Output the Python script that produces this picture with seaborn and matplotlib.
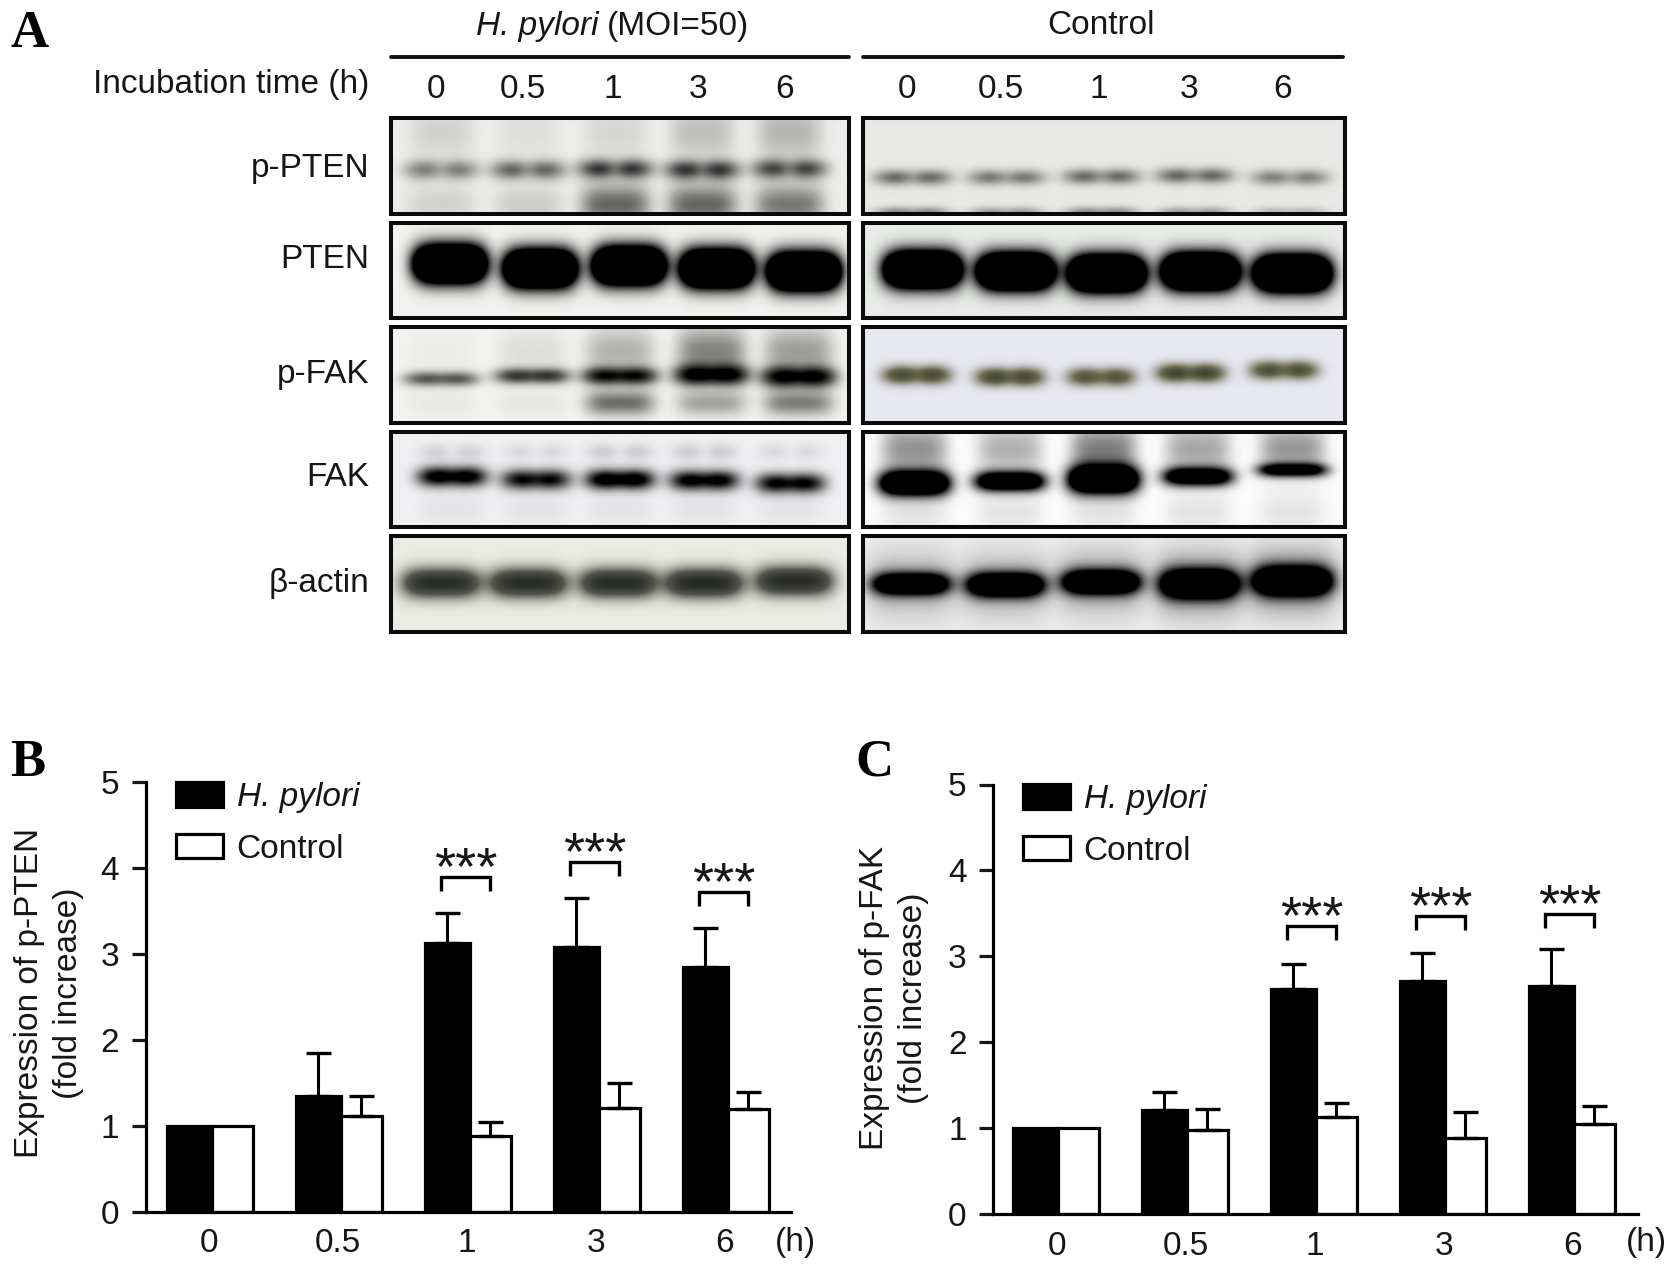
import numpy as np
import pandas as pd
import matplotlib
matplotlib.use("Agg")
import matplotlib.pyplot as plt
from matplotlib.colors import LinearSegmentedColormap
from matplotlib.patches import Patch
from matplotlib.transforms import ScaledTranslation
import seaborn as sns

# ---------- bar chart values ----------
TIMES = ["0", "0.5", "1", "3", "6"]
GROUPS = ["H. pylori", "Control"]
PTEN_HP = [1.00, 1.34, 3.13, 3.08, 2.85]
PTEN_HP_ERR = [0.00, 0.51, 0.34, 0.57, 0.45]
PTEN_CT = [1.00, 1.11, 0.88, 1.20, 1.19]
PTEN_CT_ERR = [0.00, 0.24, 0.16, 0.30, 0.20]
FAK_HP = [1.00, 1.21, 2.62, 2.71, 2.66]
FAK_HP_ERR = [0.00, 0.21, 0.29, 0.33, 0.42]
FAK_CT = [1.00, 0.98, 1.13, 0.89, 1.05]
FAK_CT_ERR = [0.00, 0.24, 0.16, 0.30, 0.21]
PTEN_BRACKET_TOPS = {"1": 3.89, "3": 4.07, "6": 3.72}
FAK_BRACKET_TOPS = {"1": 3.35, "3": 3.47, "6": 3.49}

# ---------- blot text ----------
BLOT_ROWS = ["p-PTEN", "PTEN", "p-FAK", "FAK", "β-actin"]

# ---------- blot densities, one value per lane (0, 0.5, 1, 3, 6 h) ----------
PP_HP_BAND = [0.48, 0.60, 0.80, 0.80, 0.72]
PP_HP_LOW = [0.12, 0.14, 0.58, 0.58, 0.50]
PP_HP_UP = [0.12, 0.06, 0.10, 0.20, 0.24]
PP_CT_BAND = [0.58, 0.52, 0.58, 0.60, 0.48]
PP_CT_LOW = [0.42, 0.34, 0.42, 0.34, 0.22]
P_HP_BAND = [3.2, 3.2, 3.2, 3.2, 3.2]
P_CT_BAND = [3.4, 3.4, 3.4, 3.4, 3.4]
PF_HP_BAND = [0.62, 0.78, 0.98, 1.10, 1.10]
PF_HP_LOW = [0.04, 0.05, 0.50, 0.30, 0.44]
PF_HP_UP = [0.03, 0.08, 0.24, 0.42, 0.32]
PF_CT_BAND = [0.80, 0.82, 0.72, 0.86, 0.76]
F_HP_BAND = [1.20, 1.05, 1.25, 1.15, 1.10]
F_HP_UP = [0.14, 0.10, 0.16, 0.16, 0.10]
F_CT_BAND = [2.20, 1.80, 2.40, 1.60, 1.30]
F_CT_UP = [0.42, 0.30, 0.50, 0.34, 0.40]
A_HP_BAND = [0.92, 0.92, 0.92, 0.95, 0.92]
A_CT_BAND = [1.70, 1.90, 1.90, 2.10, 2.10]
A_CT_HALO = [0.30, 0.30, 0.34, 0.46, 0.50]

# band migration, fraction of the panel height, per lane
PP_HP_POS = [0.54, 0.54, 0.53, 0.54, 0.53]
PP_CT_POS = [0.62, 0.62, 0.61, 0.60, 0.62]
P_HP_POS = [0.43, 0.48, 0.45, 0.48, 0.51]
P_CT_POS = [0.49, 0.51, 0.53, 0.51, 0.53]
PF_HP_POS = [0.54, 0.51, 0.51, 0.50, 0.52]
PF_CT_POS = [0.50, 0.52, 0.52, 0.48, 0.45]
F_HP_POS = [0.47, 0.50, 0.50, 0.51, 0.54]
F_CT_POS = [0.54, 0.52, 0.50, 0.47, 0.40]
A_HP_POS = [0.49, 0.49, 0.49, 0.49, 0.47]
A_CT_POS = [0.50, 0.51, 0.48, 0.50, 0.47]

# lane centres, fraction of the panel width
PP_HP_LANES = [0.11, 0.30, 0.49, 0.68, 0.87]
PP_CT_LANES = [0.103, 0.298, 0.495, 0.688, 0.886]
P_HP_LANES = [0.129, 0.326, 0.52, 0.711, 0.902]
P_CT_LANES = [0.124, 0.317, 0.506, 0.70, 0.891]
PF_HP_LANES = [0.11, 0.309, 0.50, 0.70, 0.89]
PF_CT_LANES = [0.112, 0.305, 0.494, 0.68, 0.873]
F_HP_LANES = [0.134, 0.317, 0.50, 0.684, 0.872]
F_CT_LANES = [0.107, 0.305, 0.499, 0.695, 0.891]
A_HP_LANES = [0.11, 0.30, 0.497, 0.684, 0.88]
A_CT_LANES = [0.10, 0.296, 0.494, 0.698, 0.891]

W, H = 1677, 1270
sns.set_theme(style="ticks", rc={"axes.facecolor": "white", "figure.facecolor": "white"})
plt.rcParams["font.family"] = ["Liberation Sans", "DejaVu Sans"]
TXT = "#161616"
FS = 24
fig = plt.figure(figsize=(W / 100, H / 100), dpi=100)


def px_axes(left, top, right, bottom):
    return fig.add_axes([left / W, 1 - bottom / H, (right - left) / W, (bottom - top) / H])


def px_text(x, y, s, **kw):
    kw.setdefault("fontsize", FS)
    kw.setdefault("color", TXT)
    kw.setdefault("ha", "center")
    kw.setdefault("va", "center")
    return fig.text(x / W, 1 - y / H, s, **kw)


def blot(box, bg, layers, mid=None, dark=(0, 0, 0)):
    left, top, right, bottom = box
    w, h = int(right - left), int(bottom - top)
    x = (np.arange(w)[None, :] + 0.5) / w
    y = (np.arange(h)[:, None] + 0.5) / h
    dens = np.zeros((h, w))
    for lanes, pos, amp, half, sig, dip in layers:
        pos = np.broadcast_to(pos, (5,))
        sig = np.broadcast_to(sig, (5,))
        for c, p, a, s in zip(lanes, pos, amp, sig):
            hx = np.exp(-(np.abs(x - c) / half) ** 4)
            hx = hx * (1 - dip * np.exp(-((x - c) / (half * 0.3)) ** 2))
            dens += a * hx * np.exp(-((y - p) / s) ** 2)
    dens = np.clip(dens, 0, 1)
    colours = [bg, dark] if mid is None else [bg, mid, dark]
    cmap = LinearSegmentedColormap.from_list("blot", colours)
    ax = px_axes(*box)
    sns.heatmap(dens, ax=ax, cmap=cmap, vmin=0, vmax=1, cbar=False,
                xticklabels=False, yticklabels=False)
    ax.tick_params(length=0)
    for sp in ax.spines.values():
        sp.set_visible(True)
        sp.set_linewidth(2.9)
        sp.set_color("#0a0a0a")
    return ax


L_BOX = (391, 849)
R_BOX = (863, 1345)
ROWS = [(118, 214), (223, 318), (327, 423), (432, 527), (536, 632)]
G1 = (0.93, 0.93, 0.92)
G2 = (0.95, 0.95, 0.94)

blot((L_BOX[0], ROWS[0][0], L_BOX[1], ROWS[0][1]), G1, [
    (PP_HP_LANES, PP_HP_POS, PP_HP_BAND, 0.08, 0.10, 0.35),
    (PP_HP_LANES, 0.90, PP_HP_LOW, 0.075, 0.20, 0.0),
    (PP_HP_LANES, 0.15, PP_HP_UP, 0.07, 0.28, 0.0),
])
blot((R_BOX[0], ROWS[0][0], R_BOX[1], ROWS[0][1]), (0.91, 0.91, 0.90), [
    (PP_CT_LANES, PP_CT_POS, PP_CT_BAND, 0.078, 0.08, 0.35),
    (PP_CT_LANES, 0.98, PP_CT_LOW, 0.075, 0.055, 0.2),
])
blot((L_BOX[0], ROWS[1][0], L_BOX[1], ROWS[1][1]), G2, [
    (P_HP_LANES, P_HP_POS, P_HP_BAND, 0.078, 0.19, 0.0),
])
blot((R_BOX[0], ROWS[1][0], R_BOX[1], ROWS[1][1]), (0.91, 0.92, 0.91), [
    (P_CT_LANES, P_CT_POS, P_CT_BAND, 0.078, 0.18, 0.0),
])
blot((L_BOX[0], ROWS[2][0], L_BOX[1], ROWS[2][1]), G2, [
    (PF_HP_LANES, PF_HP_POS, PF_HP_BAND, 0.08, [0.075, 0.08, 0.09, 0.105, 0.105], 0.12),
    (PF_HP_LANES, 0.79, PF_HP_LOW, 0.075, 0.13, 0.0),
    (PF_HP_LANES, 0.25, PF_HP_UP, 0.075, 0.24, 0.0),
], mid=(0.42, 0.43, 0.40))
blot((R_BOX[0], ROWS[2][0], R_BOX[1], ROWS[2][1]), (0.91, 0.91, 0.95), [
    (PF_CT_LANES, PF_CT_POS, PF_CT_BAND, 0.07, 0.095, 0.25),
], mid=(0.42, 0.42, 0.32), dark=(0.14, 0.18, 0.10))
blot((L_BOX[0], ROWS[3][0], L_BOX[1], ROWS[3][1]), (0.94, 0.94, 0.95), [
    (F_HP_LANES, F_HP_POS, F_HP_BAND, 0.075, 0.105, 0.12),
    (F_HP_LANES, 0.21, F_HP_UP, 0.07, 0.09, 0.6),
    (F_HP_LANES, 0.82, [0.05] * 5, 0.07, 0.15, 0.0),
])
blot((R_BOX[0], ROWS[3][0], R_BOX[1], ROWS[3][1]), (0.99, 0.99, 0.99), [
    (F_CT_LANES, F_CT_POS, F_CT_BAND, 0.072, [0.125, 0.10, 0.14, 0.095, 0.07], 0.0),
    (F_CT_LANES, 0.18, F_CT_UP, 0.068, 0.26, 0.0),
    (F_CT_LANES, 0.85, [0.10] * 5, 0.07, 0.22, 0.0),
])
blot((L_BOX[0], ROWS[4][0], L_BOX[1], ROWS[4][1]), (0.92, 0.92, 0.90), [
    (A_HP_LANES, A_HP_POS, A_HP_BAND, 0.085, 0.15, 0.0),
], mid=(0.32, 0.33, 0.30), dark=(0.13, 0.14, 0.12))
blot((R_BOX[0], ROWS[4][0], R_BOX[1], ROWS[4][1]), (0.93, 0.93, 0.93), [
    (A_CT_LANES, A_CT_POS, A_CT_BAND, 0.08, [0.11, 0.12, 0.12, 0.14, 0.14], 0.0),
    (A_CT_LANES, A_CT_POS, A_CT_HALO, 0.09, 0.32, 0.0),
])

# ---------- panel A text ----------
for x0, x1 in [(391, 849), (863, 1343)]:
    fig.add_artist(plt.Line2D([x0 / W, x1 / W], [1 - 56.5 / H] * 2, color="#111111", lw=2.8))
px_text(476, 26, "H. pylori", style="italic", ha="left")
px_text(749, 26, "(MOI=50)", ha="right")
px_text(1101, 26, "Control")
px_text(369, 85, "Incubation time (h)", ha="right")
for x, t in zip([436, 523, 613, 698, 785], TIMES):
    px_text(x, 89, t)
for x, t in zip([907, 1001, 1099, 1189, 1283], TIMES):
    px_text(x, 89, t)
for y, t in zip([168, 260, 374, 477, 584], BLOT_ROWS):
    px_text(369, y, t, ha="right")

SERIF = dict(family="Liberation Serif", weight="bold", fontsize=38, color="black")
px_text(30, 34, "A", **SERIF)
px_text(28, 763, "B", **SERIF)
px_text(874, 762, "C", **SERIF)


def bars(box, xlim, hp, hp_err, ct, ct_err, tops, ylabel, ylab_x, ylab_y, h_x, leg_anchor, tick_shift):
    ax = px_axes(*box)
    df = pd.DataFrame({
        "time": TIMES * 2,
        "group": [GROUPS[0]] * 5 + [GROUPS[1]] * 5,
        "fold": hp + ct,
    })
    sns.barplot(data=df, x="time", y="fold", hue="group", order=TIMES, hue_order=GROUPS,
                palette=["black", "white"], edgecolor="black", linewidth=2.3,
                width=0.7, gap=0, errorbar=None, legend=False, ax=ax)
    black = ax.containers[0]
    white = ax.containers[1]
    for p in black:
        right = p.get_x() + p.get_width()
        p.set_width(0.35)
        p.set_x(right - 0.35)
    for p in white:
        p.set_width(0.315)
    for cont, err in [(black, hp_err), (white, ct_err)]:
        for p, e in zip(cont, err):
            if e > 0:
                ax.errorbar(p.get_x() + p.get_width() / 2, p.get_height(), yerr=[[0], [e]],
                            color="black", lw=2.2, capsize=9, capthick=2.4, zorder=1)
    for t, top in tops.items():
        c = TIMES.index(t)
        xs = [c - 0.225, c - 0.225, c + 0.155, c + 0.155]
        ax.plot(xs, [top - 0.16, top, top, top - 0.16], color="black", lw=2.4,
                solid_joinstyle="miter", solid_capstyle="butt")
        ax.annotate("***", xy=(c - 0.035, top), xytext=(0, -5), textcoords="offset points",
                    ha="center", va="baseline", fontsize=39, color=TXT)
    ax.set_xlim(*xlim)
    ax.set_ylim(0, 5)
    ax.set_xlabel("")
    ax.set_ylabel("")
    ax.set_yticks(range(6))
    ax.tick_params(axis="y", length=10, width=2.3, pad=9, labelsize=FS, colors=TXT)
    ax.tick_params(axis="x", length=0, pad=12, labelsize=FS, colors=TXT)
    shift = ScaledTranslation(tick_shift / 100, 0, fig.dpi_scale_trans)
    for lab in ax.get_xticklabels():
        lab.set_transform(lab.get_transform() + shift)
    sns.despine(ax=ax)
    for s in ("left", "bottom"):
        ax.spines[s].set_linewidth(2.3)
        ax.spines[s].set_color("black")
    leg = ax.legend(handles=[Patch(facecolor="black", edgecolor="black", lw=2.3),
                             Patch(facecolor="white", edgecolor="black", lw=2.3)],
                    labels=GROUPS, loc="upper left", bbox_to_anchor=leg_anchor,
                    bbox_transform=fig.transFigure, frameon=False, fontsize=FS,
                    handlelength=1.42, handleheight=0.76, handletextpad=0.4,
                    labelspacing=0.62, borderaxespad=0, borderpad=0)
    leg.get_texts()[0].set_style("italic")
    for tx in leg.get_texts():
        tx.set_color(TXT)
    px_text(ylab_x, ylab_y, ylabel, rotation=90, linespacing=1.36, multialignment="center")
    px_text(h_x, 1243, "(h)")
    return ax


bars((145.5, 782, 791, 1211.5), (-0.515, 4.488), PTEN_HP, PTEN_HP_ERR, PTEN_CT, PTEN_CT_ERR,
     PTEN_BRACKET_TOPS, "Expression of p-PTEN\n(fold increase)", 49, 993, 795,
     (176 / W, 1 - 782 / H), -3)
bars((993, 784.5, 1638, 1214), (-0.504, 4.496), FAK_HP, FAK_HP_ERR, FAK_CT, FAK_CT_ERR,
     FAK_BRACKET_TOPS, "Expression of p-FAK\n(fold increase)", 894, 998, 1646,
     (1023 / W, 1 - 784 / H), -1)

fig.savefig("out.png", dpi=100)
